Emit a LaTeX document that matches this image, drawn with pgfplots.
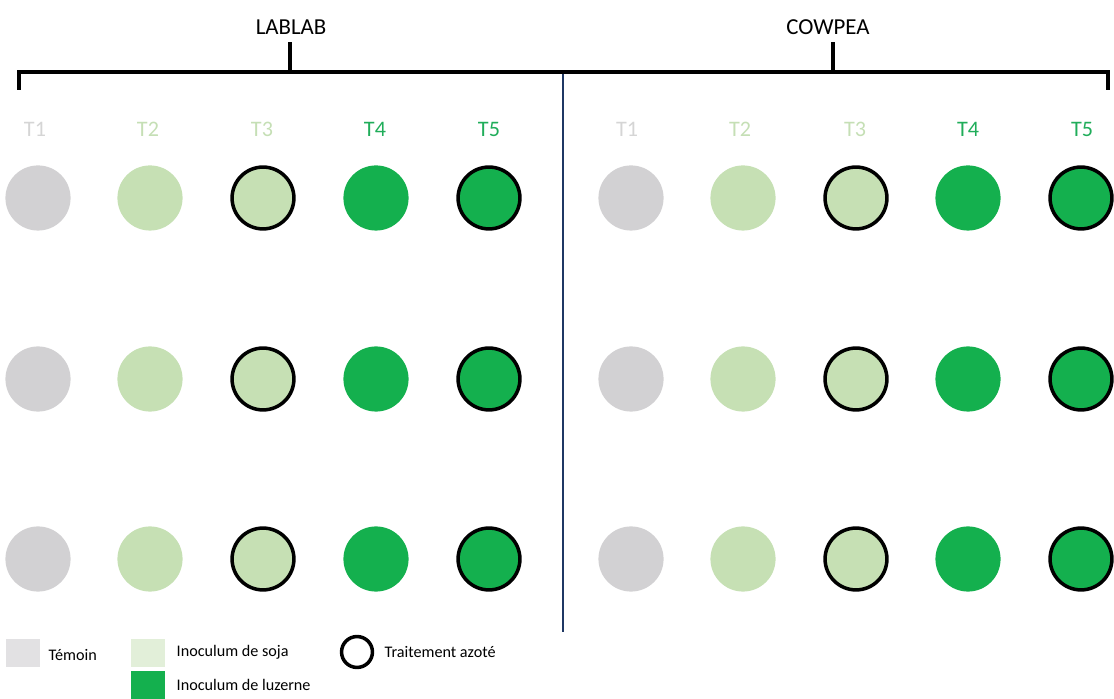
\documentclass[border=0pt]{standalone}
\usepackage{pgfplots}
\pgfplotsset{compat=1.18}
\usepackage{fontspec}
\setmainfont{Carlito}
\definecolor{gcirc}{HTML}{D2D1D3}
\definecolor{lcirc}{HTML}{C6E0B4}
\definecolor{dgreen}{HTML}{14B04E}
\definecolor{glegend}{HTML}{E2E1E3}
\definecolor{llegend}{HTML}{E2EFD9}
\definecolor{tone}{HTML}{D5D5D5}
\definecolor{ttwo}{HTML}{C5DFB5}
\definecolor{tfour}{HTML}{20AD5A}
\definecolor{navy}{HTML}{1F3864}
\begin{document}
\begin{tikzpicture}
\begin{axis}[
  at={(0,0)}, anchor=south west,
  scale only axis, width=11.14cm, height=6.99cm,
  xmin=0, xmax=1114, ymin=0, ymax=699, y dir=reverse,
  hide axis, clip=false]
% bracket and divider
\draw[navy, line width=0.8pt] (axis cs:563,72) -- (axis cs:563,632);
\draw[black, line width=1.1pt] (axis cs:19,90) -- (axis cs:19,72) -- (axis cs:1108,72) -- (axis cs:1108,90);
\draw[black, line width=1.1pt] (axis cs:290,72) -- (axis cs:290,42);
\draw[black, line width=1.1pt] (axis cs:833,72) -- (axis cs:833,42);
\node[font=\fontsize{6.5}{7}\selectfont] at (axis cs:291,27) {LABLAB};
\node[font=\fontsize{6.5}{7}\selectfont] at (axis cs:828,27) {COWPEA};
% treatment labels
\node[font=\fontsize{6.3}{7}\selectfont, text=tone] at (axis cs:35,129) {T1};
\node[font=\fontsize{6.3}{7}\selectfont, text=ttwo] at (axis cs:148,129) {T2};
\node[font=\fontsize{6.3}{7}\selectfont, text=ttwo] at (axis cs:262,129) {T3};
\node[font=\fontsize{6.3}{7}\selectfont, text=tfour] at (axis cs:375,129) {T4};
\node[font=\fontsize{6.3}{7}\selectfont, text=tfour] at (axis cs:489,129) {T5};
\node[font=\fontsize{6.3}{7}\selectfont, text=tone] at (axis cs:627,129) {T1};
\node[font=\fontsize{6.3}{7}\selectfont, text=ttwo] at (axis cs:740,129) {T2};
\node[font=\fontsize{6.3}{7}\selectfont, text=ttwo] at (axis cs:855,129) {T3};
\node[font=\fontsize{6.3}{7}\selectfont, text=tfour] at (axis cs:968,129) {T4};
\node[font=\fontsize{6.3}{7}\selectfont, text=tfour] at (axis cs:1082,129) {T5};
% circles
\addplot[only marks, color=gcirc, mark=*, mark size=9.07pt, mark options={fill=gcirc, draw=gcirc}] coordinates {
(38,198) (38,379) (38,559) (631,198) (631,379) (631,559)};
\addplot[only marks, color=lcirc, mark=*, mark size=9.07pt, mark options={fill=lcirc, draw=lcirc}] coordinates {
(150,198) (150,379) (150,559) (743,198) (743,379) (743,559)};
\addplot[only marks, color=black, mark=*, mark size=8.8pt, mark options={fill=lcirc, draw=black, line width=1pt}] coordinates {
(263,198) (263,379) (263,559) (856,198) (856,379) (856,559)};
\addplot[only marks, color=dgreen, mark=*, mark size=9.07pt, mark options={fill=dgreen, draw=dgreen}] coordinates {
(376,198) (376,379) (376,559) (968,198) (968,379) (968,559)};
\addplot[only marks, color=black, mark=*, mark size=8.8pt, mark options={fill=dgreen, draw=black, line width=1pt}] coordinates {
(489,198) (489,379) (489,559) (1081,198) (1081,379) (1081,559)};
% legend
\addplot[only marks, color=glegend, mark=square*, mark size=3.69pt, mark options={fill=glegend, draw=glegend, xscale=1.23}] coordinates {(23,653)};
\addplot[only marks, color=llegend, mark=square*, mark size=3.69pt, mark options={fill=llegend, draw=llegend, xscale=1.23}] coordinates {(148,653)};
\addplot[only marks, color=dgreen, mark=square*, mark size=3.69pt, mark options={fill=dgreen, draw=dgreen, xscale=1.23}] coordinates {(148,685)};
\addplot[only marks, color=black, mark=*, mark size=4.4pt, mark options={fill=white, draw=black, line width=1pt}] coordinates {(357,652)};
\node[anchor=west, inner sep=0pt, font=\fontsize{4.6}{5}\selectfont] at (axis cs:48,655) {Témoin};
\node[anchor=west, inner sep=0pt, font=\fontsize{4.6}{5}\selectfont] at (axis cs:176,652) {Inoculum de soja};
\node[anchor=west, inner sep=0pt, font=\fontsize{4.6}{5}\selectfont] at (axis cs:176,685) {Inoculum de luzerne};
\node[anchor=west, inner sep=0pt, font=\fontsize{4.6}{5}\selectfont] at (axis cs:384,652) {Traitement azoté};
\end{axis}
\pgfresetboundingbox
\path (0,0) rectangle (11.14cm,6.99cm);
\end{tikzpicture}
\end{document}
